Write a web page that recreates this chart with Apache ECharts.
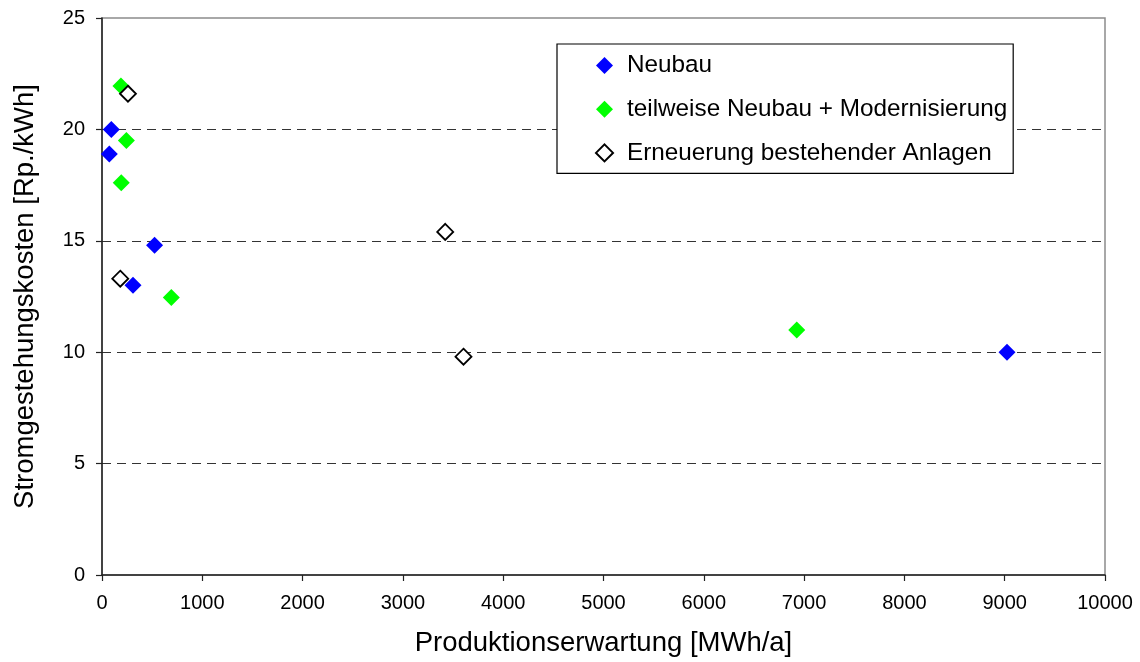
<!DOCTYPE html>
<html>
<head>
<meta charset="utf-8">
<style>
  html, body { margin: 0; padding: 0; background: #fff; }
  #chart { width: 1140px; height: 662px; }
</style>
<script src="https://cdn.jsdelivr.net/npm/echarts@6/dist/echarts.min.js"></script>
</head>
<body>
<div id="chart"></div>
<script>
// Production expectation [MWh/a] vs. electricity generation cost [Rp./kWh]
const seriesNames = ['Neubau', 'teilweise Neubau + Modernisierung', 'Erneuerung bestehender Anlagen'];

const neubau = [[93, 20.0], [73, 18.9], [524, 14.8], [309, 13.0], [9023, 10.0]];
const teilweise = [[189, 21.95], [243, 19.5], [192, 17.6], [691, 12.45], [6927, 11.0]];
const erneuerung = [[259, 21.6], [182, 13.3], [3422, 15.4], [3604, 9.8]];

const xTicks = { min: 0, max: 10000, interval: 1000 };
const yTicks = { min: 0, max: 25, interval: 5 };

const FONT = '"Liberation Sans", Arial, sans-serif';

const chart = echarts.init(document.getElementById('chart'), null, { renderer: 'canvas' });

chart.setOption({
  animation: false,
  backgroundColor: '#ffffff',
  textStyle: { fontFamily: FONT, color: '#000' },
  grid: {
    left: 102, right: 35, top: 18, bottom: 87,
    show: true, borderColor: '#8c8c8c', borderWidth: 1.5, backgroundColor: '#fff'
  },
  legend: {
    orient: 'vertical',
    left: 557, top: 44,
    padding: [9, 6, 8, 38],
    itemGap: 18.7,
    itemWidth: 17, itemHeight: 17,
    borderColor: '#000', borderWidth: 1.2,
    backgroundColor: '#fff',
    selectedMode: false,
    textStyle: { fontFamily: FONT, fontSize: 24.3, color: '#000', lineHeight: 25, padding: [0, 0, 0, 9] },
    data: seriesNames.map(n => ({ name: n, icon: 'diamond' }))
  },
  xAxis: {
    type: 'value',
    min: xTicks.min, max: xTicks.max, interval: xTicks.interval,
    name: 'Produktionserwartung [MWh/a]',
    nameLocation: 'middle',
    nameGap: 54,
    nameTextStyle: { fontFamily: FONT, fontSize: 27.5, color: '#000' },
    axisLine: { show: true, lineStyle: { color: '#222', width: 1.5 } },
    axisTick: { show: true, length: 6, lineStyle: { color: '#222', width: 1.2 } },
    axisLabel: { fontFamily: FONT, fontSize: 20, color: '#000', margin: 18, formatter: v => String(v) },
    splitLine: { show: false }
  },
  yAxis: {
    type: 'value',
    min: yTicks.min, max: yTicks.max, interval: yTicks.interval,
    name: 'Stromgestehungskosten [Rp./kWh]',
    nameLocation: 'middle',
    nameGap: 63,
    nameTextStyle: { fontFamily: FONT, fontSize: 27.5, color: '#000' },
    axisLine: { show: true, lineStyle: { color: '#222', width: 1.5 } },
    axisTick: { show: true, length: 6, lineStyle: { color: '#222', width: 1.2 } },
    axisLabel: { fontFamily: FONT, fontSize: 20, color: '#000', margin: 17, formatter: v => String(v) },
    splitLine: {
      show: true, showMinLine: false, showMaxLine: false,
      lineStyle: { color: '#333', width: 1, type: [9, 6] }
    }
  },
  series: [
    {
      name: seriesNames[0], type: 'scatter', symbol: 'diamond', symbolSize: 17,
      itemStyle: { color: '#0000ff', opacity: 1 }, data: neubau
    },
    {
      name: seriesNames[1], type: 'scatter', symbol: 'diamond', symbolSize: 17,
      itemStyle: { color: '#00ff00', opacity: 1 }, data: teilweise
    },
    {
      name: seriesNames[2], type: 'scatter', symbol: 'diamond', symbolSize: 16,
      itemStyle: { color: '#ffffff', borderColor: '#000', borderWidth: 1.8, opacity: 1 }, data: erneuerung
    }
  ]
});
</script>
</body>
</html>
